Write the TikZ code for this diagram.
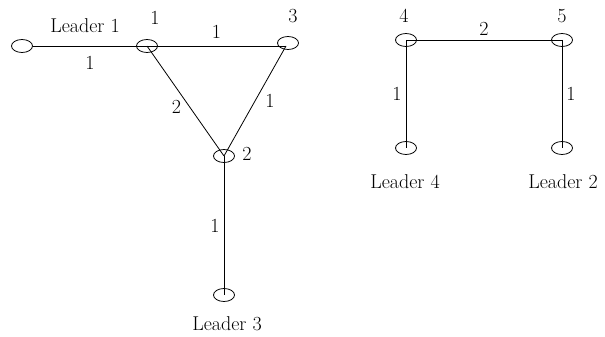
\documentclass[tikz,border=0pt]{standalone}
\usepackage{tikz}
\usetikzlibrary{positioning, shapes.geometric}

\begin{document}
\begin{tikzpicture}[
    x=1pt, y=-1pt,
    agent/.style={ellipse, draw, line width=0.8pt, minimum width=21pt, minimum height=13pt, inner sep=0pt},
    txt/.style={font=\fontsize{20}{24}\selectfont, inner sep=1pt},
    link/.style={line width=0.8pt}
]
\useasboundingbox (0,0) rectangle (605,337);

% first group
\node[agent] (l1) at (22,46) {};
\node[agent] (n1) at (147,46) {};
\node[agent] (n3) at (288,43) {};
\node[agent] (n2) at (224,156) {};
\node[agent] (l3) at (224,295) {};
\coordinate (j3) at (286,46);

% second group
\node[agent] (n4) at (406,40) {};
\node[agent] (n5) at (562,40) {};
\node[agent] (l4) at (406,148) {};
\node[agent] (l2) at (562,148) {};

\draw[link] (l1.east) -- (n1.center) node[txt, midway, below=9pt] {1};
\draw[link] (n1.center) -- (j3) node[txt, midway, above=6pt] {1};
\draw[link] (n1.center) -- (n2.center) node[txt, pos=0.55, left=7pt] {2};
\draw[link] (j3) -- (n2.center) node[txt, midway, right=9pt] {1};
\draw[link] (n2.center) -- (l3.center) node[txt, midway, left=3pt] {1};
\draw[link] (n4.center) -- (n5.center) node[txt, midway, above=3pt] {2};
\draw[link] (n4.center) -- (l4.center) node[txt, midway, left=3pt] {1};
\draw[link] (n5.center) -- (l2.center) node[txt, midway, right=3pt] {1};

% names and numbers
\node[txt] (l1lab) at (85,26) {Leader 1};
\node[txt] (n1lab) at (155,18) {1};
\node[txt] (n3lab) at (293,16) {3};
\node[txt] (n2lab) at (247,154) {2};
\node[txt] (l3lab) at (227,324) {Leader 3};
\node[txt] (n4lab) at (404,16) {4};
\node[txt] (n5lab) at (562,16) {5};
\node[txt] (l4lab) at (405,182) {Leader 4};
\node[txt] (l2lab) at (563,182) {Leader 2};

\end{tikzpicture}
\end{document}
